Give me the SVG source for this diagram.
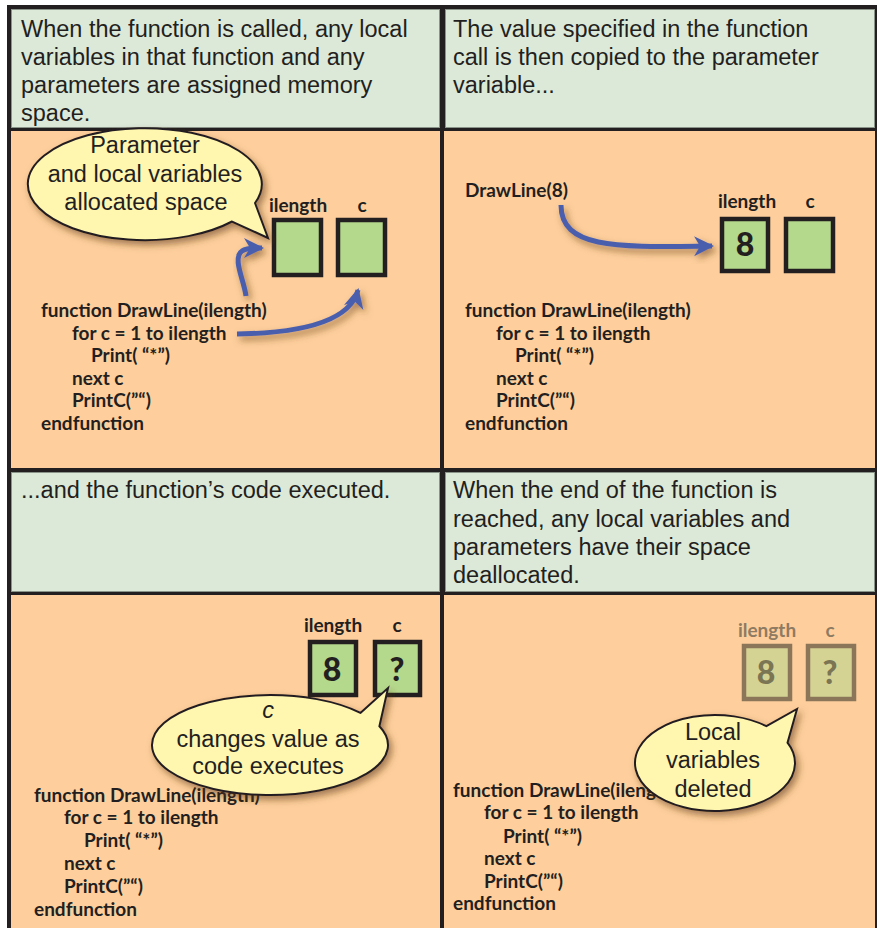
<svg xmlns="http://www.w3.org/2000/svg" width="877" height="928" viewBox="0 0 877 928">
<defs>
<filter id="sh" x="-20%" y="-20%" width="150%" height="160%">
<feDropShadow dx="3" dy="4" stdDeviation="3.5" flood-color="#5a3516" flood-opacity="0.55"/>
</filter>
<marker id="ah" markerUnits="userSpaceOnUse" markerWidth="24" markerHeight="24" refX="18" refY="10" orient="auto">
<path d="M0,0 L20,10 L0,20 L6,10 Z" fill="#4a5fae"/>
</marker>
<style>
.hdr{fill:#dce9d9;stroke:#8a9488;stroke-width:1}
.body{fill:#fecf9c}
.ht{font-family:"Liberation Sans",Arial,sans-serif;font-size:23.5px;fill:#231f20}
.bt{font-family:"Liberation Sans",Arial,sans-serif;font-size:23.5px;fill:#231f20;text-anchor:middle}
.code{font-family:Lato,"Open Sans",sans-serif;font-weight:700;font-size:19px;fill:#231f20}
.lbl{font-family:Lato,"Open Sans",sans-serif;font-weight:700;font-size:19px;fill:#231f20;text-anchor:middle}
.box{fill:#b5d98c;stroke:#231f20;stroke-width:4.5}
.val{font-family:Lato,"Open Sans",sans-serif;font-weight:900;font-size:32px;fill:#231f20;text-anchor:middle}
.fbox{fill:#d5d394;stroke:#8b7659;stroke-width:4.5}
.flbl{font-family:Lato,"Open Sans",sans-serif;font-weight:700;font-size:19px;fill:#8e7b62;text-anchor:middle}
.fval{font-family:Lato,"Open Sans",sans-serif;font-weight:900;font-size:32px;fill:#7b7553;text-anchor:middle}
.bub{fill:#fff6b0;stroke:#231f20;stroke-width:2;filter:url(#sh)}
.arr{fill:none;stroke:#4a5fae;stroke-width:5;stroke-linecap:butt;marker-end:url(#ah);filter:url(#sh)}
</style>
</defs>
<rect x="0" y="0" width="877" height="928" fill="#ffffff"/>
<rect x="7" y="5" width="870" height="923" fill="#231f20"/>

<g id="panel-1">
<rect class="hdr" x="11.5" y="9.5" width="428" height="118"/>
<rect class="body" x="11" y="131" width="429" height="337"/>
<text class="ht" x="21" y="37">When the function is called, any local</text>
<text class="ht" x="21" y="65">variables in that function and any</text>
<text class="ht" x="21" y="93">parameters are assigned memory</text>
<text class="ht" x="21" y="121">space.</text>
<text class="lbl" x="298" y="212">ilength</text>
<text class="lbl" x="362" y="212">c</text>
<rect class="box" x="274" y="220" width="47" height="55"/>
<rect class="box" x="338" y="220" width="47" height="55"/>
<text class="code" x="41" y="317">function DrawLine(ilength)</text>
<text class="code" x="72" y="340">for c = 1 to ilength</text>
<text class="code" x="91" y="362">Print( “*”)</text>
<text class="code" x="72" y="385">next c</text>
<text class="code" x="72" y="407">PrintC(”“)</text>
<text class="code" x="41" y="430">endfunction</text>
</g>

<g id="panel-2">
<rect class="hdr" x="445.5" y="9.5" width="429" height="118"/>
<rect class="body" x="444" y="131" width="431" height="337"/>
<text class="ht" x="453" y="37">The value specified in the function</text>
<text class="ht" x="453" y="65">call is then copied to the parameter</text>
<text class="ht" x="453" y="93">variable...</text>
<text class="code" x="465" y="197">DrawLine(8)</text>
<text class="lbl" x="747" y="208">ilength</text>
<text class="lbl" x="810" y="208">c</text>
<rect class="box" x="722" y="219" width="46" height="52"/>
<rect class="box" x="786" y="219" width="47" height="52"/>
<text class="val" x="745" y="256">8</text>
<text class="code" x="465" y="317">function DrawLine(ilength)</text>
<text class="code" x="496" y="340">for c = 1 to ilength</text>
<text class="code" x="515" y="362">Print( “*”)</text>
<text class="code" x="496" y="385">next c</text>
<text class="code" x="496" y="407">PrintC(”“)</text>
<text class="code" x="465" y="430">endfunction</text>
</g>

<g id="panel-3">
<rect class="hdr" x="11.5" y="472.5" width="428" height="119"/>
<rect class="body" x="11" y="595" width="429" height="333"/>
<text class="ht" x="21" y="498">...and the function’s code executed.</text>
<text class="lbl" x="333" y="632">ilength</text>
<text class="lbl" x="397" y="632">c</text>
<rect class="box" x="310" y="642" width="46" height="53"/>
<rect class="box" x="375" y="642" width="45" height="53"/>
<text class="val" x="332" y="681">8</text>
<text class="val" x="397" y="681">?</text>
<text class="code" x="34" y="802">function DrawLine(ilength)</text>
<text class="code" x="64" y="824">for c = 1 to ilength</text>
<text class="code" x="84" y="847">Print( “*”)</text>
<text class="code" x="64" y="870">next c</text>
<text class="code" x="64" y="893">PrintC(”“)</text>
<text class="code" x="34" y="916">endfunction</text>
</g>

<g id="panel-4">
<rect class="hdr" x="445.5" y="472.5" width="429" height="119"/>
<rect class="body" x="444" y="595" width="431" height="333"/>
<text class="ht" x="453" y="498">When the end of the function is</text>
<text class="ht" x="453" y="527">reached, any local variables and</text>
<text class="ht" x="453" y="555">parameters have their space</text>
<text class="ht" x="453" y="583">deallocated.</text>
<text class="flbl" x="767" y="637">ilength</text>
<text class="flbl" x="830" y="637">c</text>
<rect class="fbox" x="744" y="646" width="46" height="53"/>
<rect class="fbox" x="808" y="646" width="46" height="53"/>
<text class="fval" x="766" y="684">8</text>
<text class="fval" x="830" y="684">?</text>
<text class="code" x="453" y="797">function DrawLine(ilength)</text>
<text class="code" x="484" y="819">for c = 1 to ilength</text>
<text class="code" x="503" y="843">Print( “*”)</text>
<text class="code" x="484" y="865">next c</text>
<text class="code" x="484" y="888">PrintC(”“)</text>
<text class="code" x="453" y="910">endfunction</text>
</g>

<g id="connectors">
<path class="arr" d="M 246 296 C 244 280, 232 258, 242 251 C 247 247, 255 248, 262 248"/>
<path class="arr" d="M 237 334 C 300 333, 350 322, 358 290"/>
<path class="arr" d="M 561 205 C 561 250, 620 247, 712 246"/>
</g>

<g id="bubble-1">
<path class="bub" d="M 255 203 A 117 56 0 1 0 232 221.5 L 268 238 Z"/>
<text class="bt" x="145" y="153">Parameter</text>
<text class="bt" x="145" y="182">and local variables</text>
<text class="bt" x="146" y="210">allocated space</text>
</g>

<g id="bubble-2">
<path class="bub" d="M 360.4 712.9 L 388 688 L 379.4 726.3 A 118 50 0 1 1 360.4 712.9 Z"/>
<text class="bt" x="268" y="718" font-style="italic">c</text>
<text class="bt" x="268" y="747">changes value as</text>
<text class="bt" x="268" y="774">code executes</text>
</g>

<g id="bubble-3">
<path class="bub" d="M 766.4 726.2 L 797 709 L 787.5 742.7 A 80 48 0 1 1 766.4 726.2 Z"/>
<text class="bt" x="713" y="740">Local</text>
<text class="bt" x="713" y="768">variables</text>
<text class="bt" x="713" y="797">deleted</text>
</g>
</svg>
